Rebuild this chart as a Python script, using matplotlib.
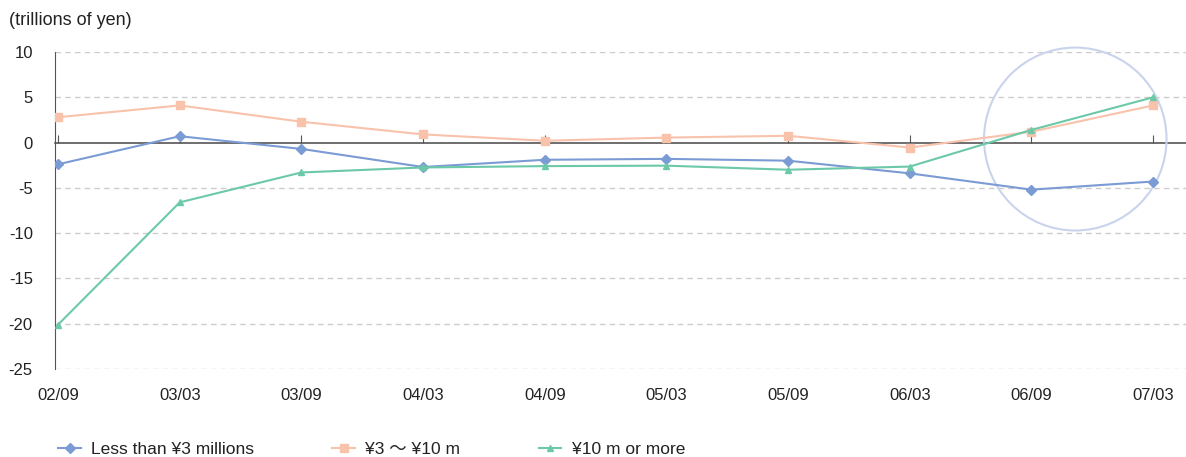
import matplotlib
matplotlib.use("Agg")
import matplotlib.pyplot as plt
from matplotlib.patches import Ellipse
from matplotlib.lines import Line2D

periods = ["02/09", "03/03", "03/09", "04/03", "04/09", "05/03", "05/09", "06/03", "06/09", "07/03"]
less_than_3m = [-2.4, 0.7, -0.7, -2.7, -1.9, -1.8, -2.0, -3.4, -5.2, -4.3]
from_3m_to_10m = [2.8, 4.1, 2.3, 0.9, 0.2, 0.55, 0.75, -0.55, 1.2, 4.1]
over_10m = [-20.1, -6.6, -3.3, -2.75, -2.6, -2.55, -3.0, -2.65, 1.4, 5.0]
labels = ["Less than ¥3 millions", "¥3 〜 ¥10 m", "¥10 m or more"]

BLUE = "#7b9bd4"
ORANGE = "#f9c2ab"
GREEN = "#6cc9a8"
TEXT = "#222222"

plt.rcParams["font.family"] = ["Liberation Sans", "Noto Sans CJK JP", "DejaVu Sans"]
plt.rcParams["axes.unicode_minus"] = False

fig = plt.figure(figsize=(11.86, 4.57), dpi=100)
ax = fig.add_axes([0.0464, 0.1926, 0.9536, 0.6936])

x = list(range(len(periods)))
ax.plot(x, less_than_3m, color=BLUE, lw=1.5, marker="D", ms=5, zorder=3)
ax.plot(x, from_3m_to_10m, color=ORANGE, lw=1.5, marker="s", ms=6, zorder=3)
ax.plot(x, over_10m, color=GREEN, lw=1.5, marker="^", ms=5, zorder=3)

# highlight circle around the last two periods
ax.add_patch(Ellipse((8.36, 0.39), 1.5, 20.2, fill=False, ec="#c9d4ec", lw=1.5, clip_on=False))

ax.set_xlim(-0.025, 9.27)
ax.set_ylim(-25, 10)
ax.set_yticks([10, 5, 0, -5, -10, -15, -20, -25])
for v in [10, 5, -5, -10, -15, -20, -25]:
    ax.axhline(v, color="#cccccc", lw=1, ls=(0, (4, 3)), zorder=0)

ax.set_xticks(x)
ax.set_xticklabels(periods)
ax.tick_params(axis="x", length=0, pad=14, labelsize=12, labelcolor=TEXT)
ax.tick_params(axis="y", length=0, pad=16, labelsize=12, labelcolor=TEXT)

for s in ["top", "right", "bottom"]:
    ax.spines[s].set_visible(False)
ax.spines["left"].set_color("#555555")

# zero line with upward ticks
sec = ax.secondary_xaxis(0, transform=ax.transData)
sec.set_xticks(x)
sec.set_xticklabels([])
sec.tick_params(direction="in", length=6, color="#555555")
sec.spines["bottom"].set_color("#555555")
sec.spines["bottom"].set_linewidth(1.2)

fig.text(0.008, 0.955, "(trillions of yen)", fontsize=13, color=TEXT, va="center")

handles = [
    Line2D([], [], color=BLUE, marker="D", ms=5, lw=1.5),
    Line2D([], [], color=ORANGE, marker="s", ms=6, lw=1.5),
    Line2D([], [], color=GREEN, marker="^", ms=5, lw=1.5),
]
fig.legend(handles, labels, loc="lower left", bbox_to_anchor=(0.036, -0.035), ncol=3,
           frameon=False, fontsize=12.5, handlelength=1.3, handletextpad=0.6,
           columnspacing=4.5, labelcolor=TEXT)

fig.savefig("out.png", dpi=100)
